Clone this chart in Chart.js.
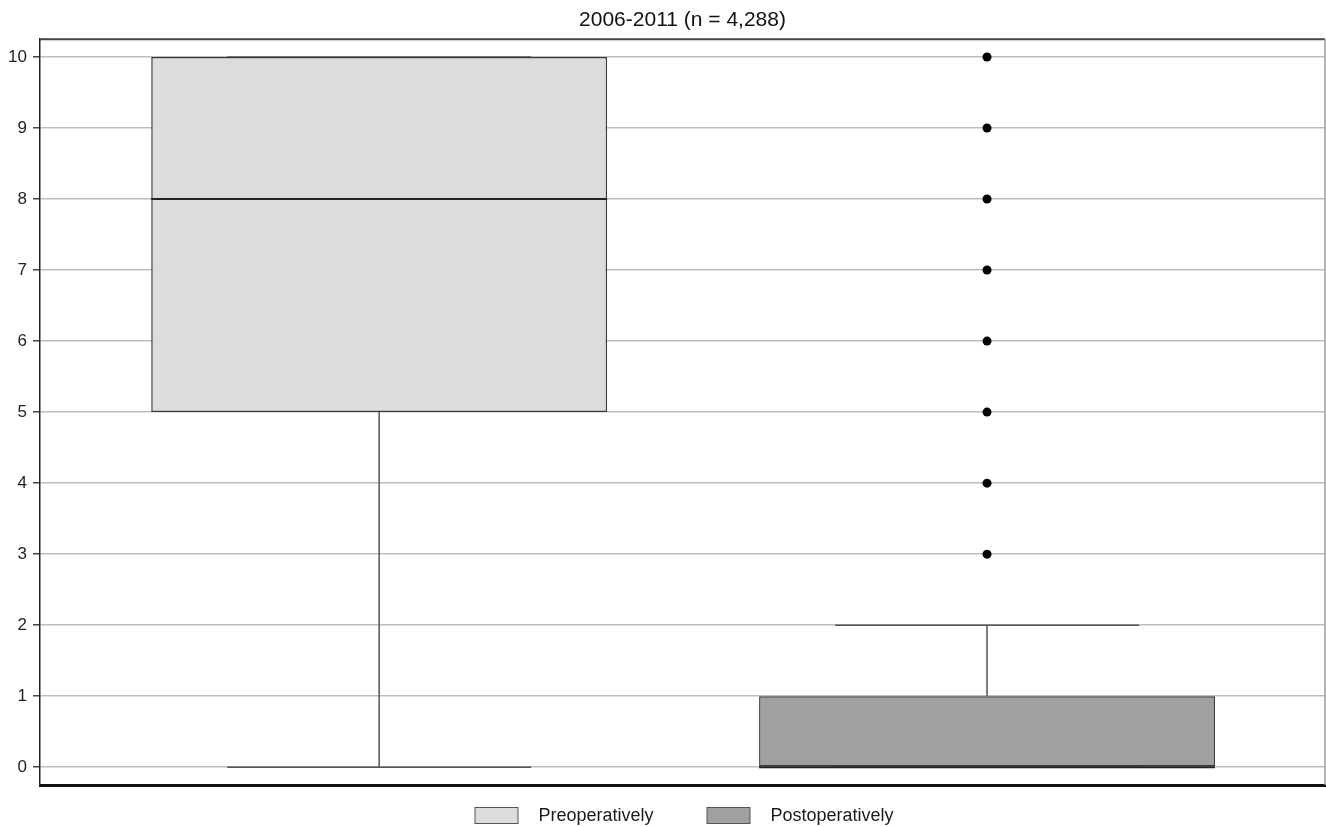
<!DOCTYPE html>
<html>
<head>
<meta charset="utf-8">
<title>Pain scores 2006-2011</title>
<script src="https://cdn.jsdelivr.net/npm/chart.js@4.4.1/dist/chart.umd.min.js"></script>
<style>
  html, body { margin: 0; padding: 0; background: #fff; }
  #wrap { width: 1326px; height: 827px; }
</style>
</head>
<body>
<div id="wrap"><canvas id="chart-box"></canvas></div>
<script>
// box plot summary per group
const groups      = ['Preoperatively', 'Postoperatively'];
const groupPos    = [1, 2];
const q1          = [5, 0];
const median      = [8, 0];
const q3          = [10, 1];
const whiskerLow  = [0, 0];
const whiskerHigh = [10, 2];
const outliers    = [[], [3, 4, 5, 6, 7, 8, 9, 10]];
const yTicks      = [0, 1, 2, 3, 4, 5, 6, 7, 8, 9, 10];

const fills = ['#dcdcdc', '#a0a0a0'];
const FONT = "'Liberation Sans', Arial, sans-serif";
const CAP_WIDTH = 0.5;   // whisker cap, in x units

// legend swatch: box drawn on a wider transparent canvas so the text sits further off
function swatch(fill) {
  const c = document.createElement('canvas');
  c.width = 98; c.height = 18;
  const g = c.getContext('2d');
  g.fillStyle = fill;
  g.fillRect(43.5, 0.5, 43, 16);
  g.strokeStyle = '#555';
  g.lineWidth = 1;
  g.strokeRect(43.5, 0.5, 43, 16);
  return c;
}

const boxDatasets = groups.map((name, i) => ({
  type: 'bar',
  label: name,
  data: [{ x: groupPos[i], y: [q1[i], q3[i]] }],
  backgroundColor: fills[i],
  borderColor: '#3a3a3a',
  borderWidth: 1.5,
  borderSkipped: false,
  grouped: false,
  barPercentage: 0.75,
  categoryPercentage: 1
}));

const outlierData = [];
outliers.forEach((list, i) => list.forEach(v => outlierData.push({ x: groupPos[i], y: v })));

// whiskers go under the boxes, medians on top of them
const whiskers = {
  id: 'whiskers',
  beforeDatasetsDraw(chart) {
    const { ctx, scales: { x, y } } = chart;
    ctx.save();
    ctx.strokeStyle = '#555';
    ctx.lineWidth = 1.5;
    groups.forEach((g, i) => {
      const px = x.getPixelForValue(groupPos[i]);
      const half = Math.abs(x.getPixelForValue(groupPos[i] + CAP_WIDTH / 2) - px);
      ctx.beginPath();
      ctx.moveTo(px, y.getPixelForValue(whiskerLow[i]));
      ctx.lineTo(px, y.getPixelForValue(q1[i]));
      ctx.moveTo(px, y.getPixelForValue(q3[i]));
      ctx.lineTo(px, y.getPixelForValue(whiskerHigh[i]));
      [whiskerLow[i], whiskerHigh[i]].forEach(v => {
        const py = y.getPixelForValue(v);
        ctx.moveTo(px - half, py);
        ctx.lineTo(px + half, py);
      });
      ctx.stroke();
    });
    ctx.restore();
  },
  afterDatasetsDraw(chart) {
    const { ctx, scales: { y } } = chart;
    ctx.save();
    ctx.strokeStyle = '#222';
    ctx.lineWidth = 2;
    groups.forEach((g, i) => {
      const bar = chart.getDatasetMeta(i).data[0];
      const py = y.getPixelForValue(median[i]);
      ctx.beginPath();
      ctx.moveTo(bar.x - bar.width / 2, py);
      ctx.lineTo(bar.x + bar.width / 2, py);
      ctx.stroke();
    });
    ctx.restore();
  }
};

// top and right edges of the plot frame
const frame = {
  id: 'frame',
  afterDraw(chart) {
    const { ctx, chartArea: a } = chart;
    ctx.save();
    ctx.lineWidth = 2;
    ctx.strokeStyle = '#444';
    ctx.beginPath();
    ctx.moveTo(a.left, a.top);
    ctx.lineTo(a.right, a.top);
    ctx.stroke();
    ctx.lineWidth = 1.5;
    ctx.strokeStyle = '#999';
    ctx.beginPath();
    ctx.moveTo(a.right, a.top);
    ctx.lineTo(a.right, a.bottom);
    ctx.stroke();
    ctx.restore();
  }
};

new Chart(document.getElementById('chart-box'), {
  type: 'bar',
  data: {
    datasets: [
      ...boxDatasets,
      {
        type: 'scatter',
        label: 'outliers',
        data: outlierData,
        backgroundColor: '#000',
        borderWidth: 0,
        pointRadius: 4.5
      }
    ]
  },
  plugins: [whiskers, frame],
  options: {
    responsive: true,
    maintainAspectRatio: false,
    animation: false,
    layout: { autoPadding: false, padding: { right: 1, bottom: -8 } },
    plugins: {
      title: {
        display: true,
        fullSize: false,
        text: '2006-2011 (n = 4,288)',
        color: '#111',
        font: { family: FONT, size: 21, weight: 'normal' },
        padding: { top: 8, bottom: 6 }
      },
      legend: {
        position: 'bottom',
        labels: {
          usePointStyle: true,
          pointStyleWidth: 98,
          boxHeight: 18,
          padding: 10,
          color: '#1a1a1a',
          font: { family: FONT, size: 18 },
          generateLabels: chart => groups.map((name, i) => ({
            text: name,
            datasetIndex: i,
            pointStyle: swatch(fills[i]),
            fillStyle: fills[i],
            strokeStyle: '#555',
            lineWidth: 1,
            fontColor: '#1a1a1a'
          }))
        }
      },
      tooltip: { enabled: false }
    },
    scales: {
      x: {
        type: 'linear',
        offset: false,
        min: 0.442,
        max: 2.556,
        afterBuildTicks: scale => { scale.ticks = groupPos.map(v => ({ value: v })); },
        afterFit: scale => { scale.height = 12; },
        ticks: { display: false },
        grid: { offset: false, drawOnChartArea: false, drawTicks: false },
        border: { display: true, color: '#111', width: 3 }
      },
      y: {
        min: -0.25,
        max: 10.25,
        afterBuildTicks: scale => { scale.ticks = yTicks.map(v => ({ value: v })); },
        afterFit: scale => { scale.width = 40; },
        ticks: {
          color: '#222',
          padding: 6,
          font: { family: FONT, size: 17 }
        },
        grid: {
          color: '#bdbdbd',
          lineWidth: 1.5,
          tickColor: '#444',
          tickLength: 7
        },
        border: { display: true, color: '#222', width: 1.5 }
      }
    }
  }
});
</script>
</body>
</html>
